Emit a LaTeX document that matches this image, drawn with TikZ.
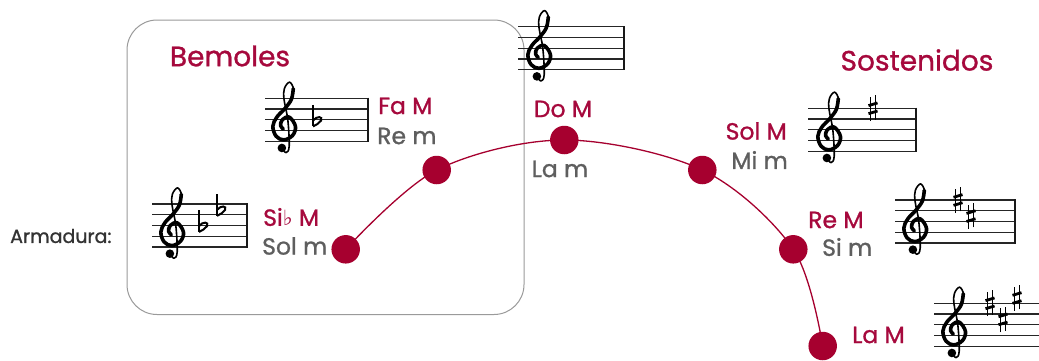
\documentclass[tikz,border=0pt]{standalone}
\usepackage{fontspec}
\setmainfont{Poppins}[RawFeature={embolden=1.0}]
\newfontfamily\symfont{DejaVu Sans}
\definecolor{crim}{HTML}{A6093D}
\definecolor{dotc}{HTML}{A6002F}
\definecolor{txtgray}{HTML}{5E5E5E}
\definecolor{darktxt}{HTML}{333333}
\definecolor{boxgray}{HTML}{9A9A9A}
\begin{document}
\begin{tikzpicture}[x=1pt,y=1pt,
  head/.style={text=crim, font=\fontsize{28}{30}\selectfont, inner sep=0pt},
  keytxt/.style={text=crim, font=\fontsize{23.5}{26}\selectfont, inner sep=0pt},
  modetxt/.style={text=txtgray, font=\fontsize{23.5}{26}\selectfont, inner sep=0pt},
  keydot/.style={circle, fill=dotc, minimum size=28.5pt, inner sep=0pt},
  arcline/.style={draw=dotc, line width=1.3pt},
  keybox/.style={draw=boxgray, line width=1pt, rounded corners=30pt},
  staffline/.style={line width=1.2pt, draw=black!85},
  barline/.style={line width=1.8pt, draw=black!90},
  pics/staff/.style={code={
    \foreach \i in {0,...,4} \draw[staffline] (0,-\i*10.75) -- (#1,-\i*10.75);
    \draw[barline] (#1,0.6) -- (#1,-43.6);
  }},
  pics/clef/.style={code={
    \begin{scope}[scale=10.75, line cap=round, line join=round]
      \fill (0.92,-0.62) circle (0.4);
      \draw[line width=1.6pt] plot[smooth,tension=0.6] coordinates {(0.92,-0.62) (1.3,-1.05) (1.6,-0.45) (1.47,2.0) (1.12,3.9) (1.15,4.9) (1.63,5.5) (2.0,4.85) (1.8,3.9)};
      \draw[line width=3.6pt] plot[smooth,tension=0.6] coordinates {(1.98,4.9) (1.8,3.9) (1.2,3.05) (0.45,2.25) (0.08,1.4) (0.38,0.48) (1.1,0.13) (1.92,0.55) (2.18,1.4) (1.6,2.25) (0.95,2.0) (0.8,1.45) (1.05,1.15)};
    \end{scope}
  }},
  pics/sharpsign/.style={code={
    \begin{scope}[scale=10.75]
      \draw[line width=1.2pt] (-0.22,-1.2) -- (-0.22,1.05);
      \draw[line width=1.2pt] (0.22,-1.05) -- (0.22,1.2);
      \draw[line width=2.8pt] (-0.42,-0.5) -- (0.42,-0.25);
      \draw[line width=2.8pt] (-0.42,0.25) -- (0.42,0.5);
    \end{scope}
  }},
  pics/flatsign/.style={code={
    \begin{scope}[scale=10.75]
      \draw[line width=1.2pt] (0,1.4) -- (0,-0.6);
      \draw[line width=2pt] (0,-0.05) .. controls (0.35,0.4) and (0.95,0.35) .. (0.75,-0.05) .. controls (0.6,-0.3) and (0.3,-0.45) .. (0,-0.6);
    \end{scope}
  }}
]
\useasboundingbox (0,0) rectangle (1039,-360);
\fill[white] (0,0) rectangle (1039,-360);

% bemoles box
\draw[keybox] (127,-20) rectangle (524,-314.5);

% headings
\node[head] (bem) at (230,-56) {Bemoles};
\node[head] (sos) at (917,-60) {Sostenidos};
\node[text=darktxt, font=\fontsize{19}{21}\selectfont, inner sep=0pt, anchor=west] (arm) at (10,-236) {Armadura:};

% staves
\pic at (265,-98.3) {staff=103};
\pic at (272,-141.3) {clef};
\pic at (313,-120) {flatsign};

\pic at (152,-204) {staff=95};
\pic at (160,-247) {clef};
\pic at (199,-225.5) {flatsign};
\pic at (217,-209.4) {flatsign};

\pic at (518,-26.7) {staff=106};
\pic at (527,-69.7) {clef};

\pic at (808,-108.3) {staff=108};
\pic at (817,-151.3) {clef};
\pic at (873,-108.3) {sharpsign};

\pic at (895,-200) {staff=120};
\pic at (903,-243) {clef};
\pic at (958,-200) {sharpsign};
\pic at (971,-216.1) {sharpsign};

\pic at (934,-303.3) {staff=120};
\pic at (942,-346.3) {clef};
\pic at (990,-303.3) {sharpsign};
\pic at (1003,-319.4) {sharpsign};
\pic at (1017,-298) {sharpsign};

% circle of fifths arc and key dots
\coordinate (c1) at (345.7,-249.3);
\coordinate (c2) at (436.7,-170);
\coordinate (c3) at (564.3,-140);
\coordinate (c4) at (702.3,-170);
\coordinate (c5) at (793.3,-249.3);
\coordinate (c6) at (822.7,-346);
\draw[arcline] plot[smooth, tension=0.55] coordinates {(c1) (c2) (c3) (c4) (c5) (c6)};
\node[keydot] (d1) at (c1) {};
\node[keydot] (d2) at (c2) {};
\node[keydot] (d3) at (c3) {};
\node[keydot] (d4) at (c4) {};
\node[keydot] (d5) at (c5) {};
\node[keydot] (d6) at (c6) {};

% labels
\node[keytxt, anchor=west] (faM) at (378,-106) {Fa M};
\node[modetxt, anchor=west] (rem) at (377,-136) {Re m};
\node[keytxt, anchor=west] (sibM) at (263,-217) {Si{\symfont\fontsize{21}{21}\selectfont ♭} M};
\node[modetxt, anchor=west] (solm) at (262,-246) {Sol m};
\node[keytxt] (doM) at (563,-109) {Do M};
\node[modetxt] (lam) at (560,-169) {La m};
\node[keytxt, anchor=east] (solM) at (787,-131) {Sol M};
\node[modetxt, anchor=east] (mim) at (788,-160) {Mi m};
\node[keytxt, anchor=west] (reM) at (808,-220) {Re M};
\node[modetxt, anchor=west] (sim) at (822,-247) {Si m};
\node[keytxt, anchor=west] (laM) at (852,-335) {La M};
\end{tikzpicture}
\end{document}
